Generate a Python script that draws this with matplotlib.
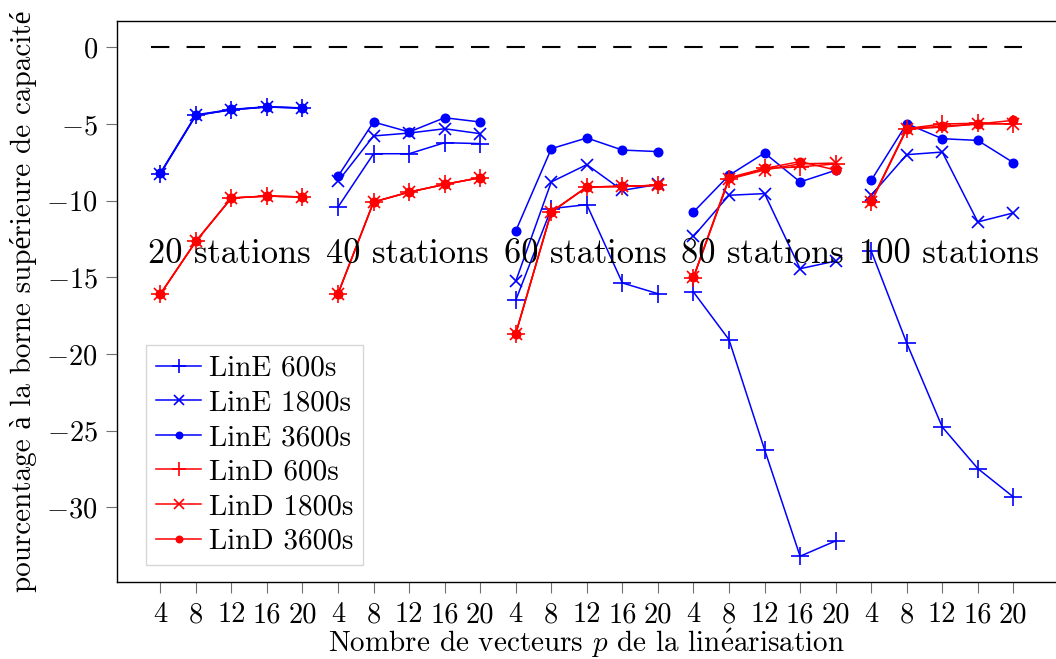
import matplotlib
matplotlib.use("Agg")
import matplotlib.pyplot as plt
import numpy as np

plt.rcParams['font.family'] = ['cmr10', 'Liberation Serif']
plt.rcParams['mathtext.fontset'] = 'cm'
plt.rcParams['axes.formatter.use_mathtext'] = True
plt.rcParams['axes.unicode_minus'] = True
plt.rcParams['lines.scale_dashes'] = False

groups = ["20 stations", "40 stations", "60 stations", "80 stations", "100 stations"]
p_values = [4, 8, 12, 16, 20]

LinE600 = [-8.24, -4.44, -4.07, -3.89, -3.96,
           -10.42, -6.94, -6.94, -6.22, -6.28,
           -16.5, -10.52, -10.26, -15.37, -16.07,
           -15.96, -19.07, -26.24, -33.2, -32.2,
           -13.28, -19.29, -24.77, -27.48, -29.33]
LinE1800 = [-8.24, -4.44, -4.07, -3.89, -3.96,
            -8.74, -5.78, -5.59, -5.31, -5.63,
            -15.26, -8.78, -7.65, -9.33, -8.94,
            -12.33, -9.65, -9.54, -14.44, -13.94,
            -9.65, -7.0, -6.83, -11.39, -10.8]
LinE3600 = [-8.2, -4.4, -4.05, -3.87, -3.95,
            -8.41, -4.87, -5.52, -4.59, -4.87,
            -11.98, -6.61, -5.91, -6.7, -6.8,
            -10.74, -8.35, -6.89, -8.78, -8.02,
            -8.68, -4.98, -5.96, -6.07, -7.52]
LinD600 = [-16.1, -12.66, -9.83, -9.7, -9.76,
           -16.07, -10.09, -9.44, -8.94, -8.5,
           -18.68, -10.74, -9.11, -9.07, -9.0,
           -15.03, -8.6, -7.9, -7.8, -7.6,
           -10.09, -5.3, -5.0, -4.95, -5.0]
LinD1800 = [-16.1, -12.66, -9.83, -9.7, -9.76,
            -16.07, -10.09, -9.44, -8.94, -8.5,
            -18.68, -10.74, -9.11, -9.07, -9.0,
            -15.0, -8.6, -8.0, -7.6, -7.55,
            -10.1, -5.35, -5.2, -5.0, -4.98]
LinD3600 = [-16.1, -12.66, -9.83, -9.7, -9.76,
            -16.07, -10.09, -9.44, -8.94, -8.5,
            -18.68, -10.74, -9.11, -9.07, -9.0,
            -15.0, -8.5, -7.9, -7.45, -8.0,
            -10.05, -5.3, -5.15, -5.0, -4.76]

series = [
    ("LinE 600s", LinE600, "blue", "+", 13),
    ("LinE 1800s", LinE1800, "blue", "x", 9),
    ("LinE 3600s", LinE3600, "blue", "o", 6),
    ("LinD 600s", LinD600, "red", "+", 13),
    ("LinD 1800s", LinD1800, "red", "x", 9),
    ("LinD 3600s", LinD3600, "red", "o", 6),
]

W, H = 1056, 659
fig = plt.figure(figsize=(W / 100, H / 100), dpi=100)
left, right, top, bottom = 117.3, 1056, 21, 582.3
ax = fig.add_axes([left / W, (H - bottom) / H, (right - left) / W, (bottom - top) / H])

n = len(p_values)
x_all = np.arange(len(groups) * n)

for label, vals, color, marker, ms in series:
    vals = np.array(vals)
    for g in range(len(groups)):
        sl = slice(g * n, (g + 1) * n)
        ax.plot(x_all[sl], vals[sl], color=color, marker=marker, markersize=ms,
                markeredgewidth=1.2, linewidth=1.1,
                label=label if g == 0 else None)

ax.hlines(0, -0.26, len(x_all) - 0.77, colors='black', linewidth=1.5,
          linestyles=(0, (13.2, 12.4)))

for g, name in enumerate(groups):
    ax.text(g * n - 0.34, -14.1, name, fontsize=24.8, ha='left', va='baseline')

ax.set_xlim(-1.21, 25.2)
ax.set_ylim(-34.9, 1.72)
ax.set_xticks(x_all)
ax.set_xticklabels([str(p) for p in p_values] * len(groups))
ax.set_yticks([0, -5, -10, -15, -20, -25, -30])

ax.tick_params(axis='both', direction='out', length=8, width=0.8, color='#707070',
               labelsize=20.5, pad=6)
for s in ['left', 'top', 'bottom']:
    ax.spines[s].set_linewidth(1.0)
ax.spines['right'].set_visible(False)

ax.set_xlabel(r"Nombre de vecteurs $p$ de la lin$\mathrm{\acute{e}}$arisation", fontsize=21)
ax.set_ylabel("pourcentage à la borne supérieure de capacité", fontsize=21)
ax.xaxis.set_label_coords(0.5, -(627 - bottom) / (bottom - top))
ax.yaxis.set_label_coords((37 - left) / (right - left), 0.5)

leg = ax.legend(loc='lower left',
                bbox_to_anchor=((146 - left) / (right - left), (bottom - 565) / (bottom - top)),
                borderaxespad=0, fontsize=21, frameon=True, fancybox=False,
                edgecolor='#cccccc', handlelength=1.55, handletextpad=0.25,
                labelspacing=0.28, borderpad=0.35, markerscale=0.75)
leg.get_frame().set_linewidth(1.0)

fig.savefig("out.png", dpi=100)
